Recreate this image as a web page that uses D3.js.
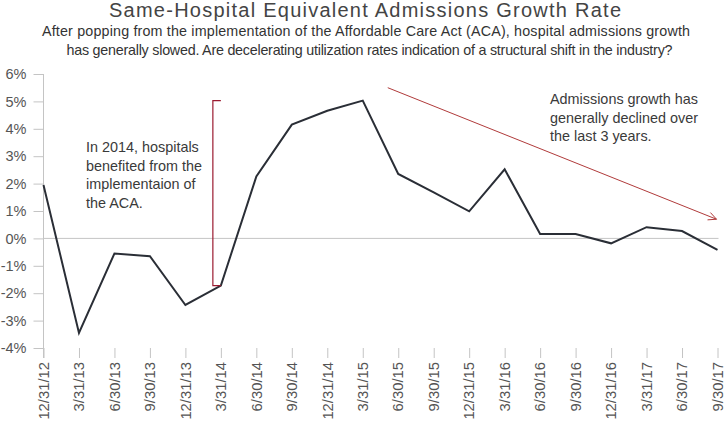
<!DOCTYPE html>
<html><head><meta charset="utf-8">
<script src="https://cdn.jsdelivr.net/npm/d3@7"></script>
<style>body{margin:0;background:#fff}svg{display:block;font-family:"Liberation Sans",Arial,sans-serif}</style>
</head><body><svg id="c" width="725" height="425"></svg>
<script>
const categories = ["12/31/12","3/31/13","6/30/13","9/30/13","12/31/13","3/31/14","6/30/14","9/30/14","12/31/14","3/31/15","6/30/15","9/30/15","12/31/15","3/31/16","6/30/16","9/30/16","12/31/16","3/31/17","6/30/17","9/30/17"];
const growth = [1.95,-3.45,-0.55,-0.65,-2.43,-1.72,2.26,4.15,4.66,5.03,2.35,1.68,0.99,2.52,0.16,0.16,-0.18,0.41,0.27,-0.42];
const yTicks = [6,5,4,3,2,1,0,-1,-2,-3,-4];
const title = "Same-Hospital Equivalent Admissions Growth Rate";
const subtitle = ["After popping from the implementation of the Affordable Care Act (ACA), hospital admissions growth","has generally slowed. Are decelerating utilization rates indication of a structural shift in the industry?"];
const note1 = ["In 2014, hospitals","benefited from the","implementaion of","the ACA."];
const note2 = ["Admissions growth has","generally declined over","the last 3 years."];

const svg = d3.select("#c");
const x = d3.scalePoint().domain(categories).range([43.5, 717.5]);
const y = d3.scaleLinear().domain([-4, 6]).range([348, 74]);
const axisCol = "#c4c4c4", labCol = "#555";

svg.append("text").attr("x", 365).attr("y", 17).attr("text-anchor","middle")
  .attr("font-size", 20).attr("fill","#444").attr("textLength",512).attr("lengthAdjust","spacing").text(title);
const subW = [648, 606], subX = [366, 369.5];
subtitle.forEach((s,i)=>svg.append("text").attr("x",subX[i]).attr("y",36+i*18.5)
  .attr("text-anchor","middle").attr("font-size",14.3).attr("fill","#333")
  .attr("textLength",subW[i]).attr("lengthAdjust","spacing").text(s));

// y axis
const ya = svg.append("g").attr("transform","translate(43.5,0)")
  .call(d3.axisLeft(y).tickValues(yTicks).tickFormat(d=>d+"%").tickSize(10).tickPadding(7));
ya.select(".domain").attr("stroke",axisCol).attr("d","M0,"+y(6)+"V358");
ya.selectAll(".tick line").attr("stroke",axisCol);
ya.selectAll(".tick text").attr("font-size",14.5).attr("fill",labCol).attr("font-family","Liberation Sans, Arial, sans-serif");

// x axis
const xa = svg.append("g").attr("transform","translate(0,348)")
  .call(d3.axisBottom(x).tickSize(10).tickPadding(5));
xa.select(".domain").remove();
xa.selectAll(".tick line").attr("stroke",axisCol);
xa.selectAll(".tick text").attr("font-size",14.8).attr("fill",labCol)
  .attr("font-family","Liberation Sans, Arial, sans-serif")
  .attr("transform","rotate(-90)").attr("text-anchor","end")
  .attr("x",-14).attr("y",0).attr("dy","0.32em");

// zero line
svg.append("line").attr("x1",43.5).attr("x2",718.5).attr("y1",y(0)).attr("y2",y(0))
  .attr("stroke",axisCol).attr("stroke-width",1);

// line
svg.append("path").datum(growth).attr("fill","none").attr("stroke","#2a2e36")
  .attr("stroke-width",2).attr("stroke-linejoin","miter")
  .attr("d", d3.line().x((d,i)=>x(categories[i])).y(d=>y(d)));

// bracket annotation
const bx = x(categories[5]) - 8;
svg.append("path").attr("fill","none").attr("stroke","#9b1b30").attr("stroke-width",1.2)
  .attr("d", `M${bx+8},${y(5.03)}H${bx}V${y(growth[5])}H${x(categories[5])}`);

// arrow annotation
const ax1 = x(categories[9])+25, ay1 = y(5.5), ax2 = x(categories[19])-1, ay2 = y(0.7);
svg.append("line").attr("x1",ax1).attr("y1",ay1).attr("x2",ax2).attr("y2",ay2)
  .attr("stroke","#b03a3a").attr("stroke-width",1);
const ang = Math.atan2(ay2-ay1, ax2-ax1);
const hl = 9, ha = 0.45;
svg.append("path").attr("fill","none").attr("stroke","#b03a3a").attr("stroke-width",1)
  .attr("d", `M${ax2-hl*Math.cos(ang-ha)},${ay2-hl*Math.sin(ang-ha)}L${ax2},${ay2}L${ax2-hl*Math.cos(ang+ha)},${ay2-hl*Math.sin(ang+ha)}`);

note1.forEach((s,i)=>svg.append("text").attr("x",86).attr("y",152+i*18.7)
  .attr("font-size",14.4).attr("fill","#3a3a3a").text(s));
note2.forEach((s,i)=>svg.append("text").attr("x",550).attr("y",104+i*18.7)
  .attr("font-size",14.4).attr("fill","#3a3a3a").text(s));
</script></body></html>
